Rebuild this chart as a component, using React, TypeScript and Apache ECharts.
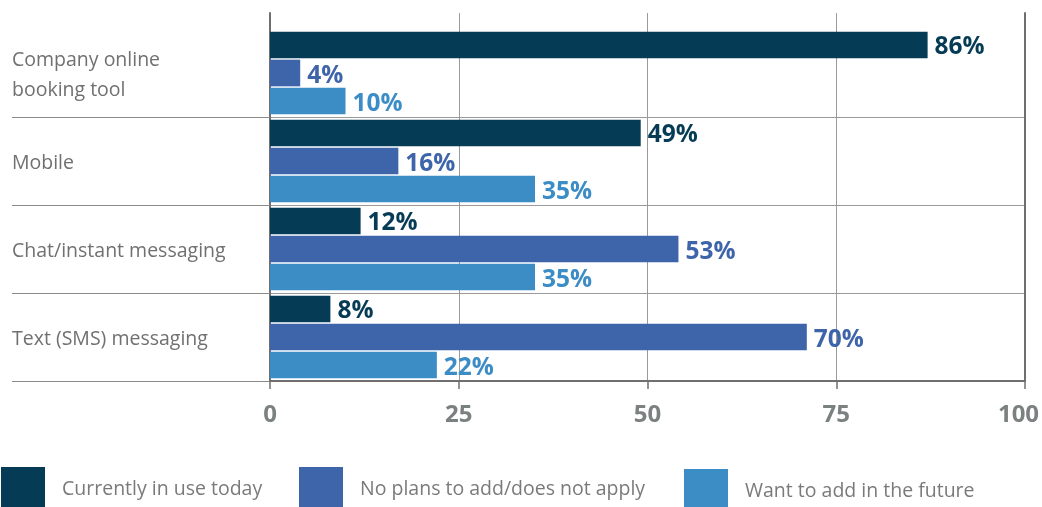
import React, { useEffect, useRef } from "react";
import * as echarts from "echarts";

const categories = [
  "Company online\nbooking tool",
  "Mobile",
  "Chat/instant messaging",
  "Text (SMS) messaging",
];
const seriesNames = [
  "Currently in use today",
  "No plans to add/does not apply",
  "Want to add in the future",
];
// bar lengths as drawn
const inUse = [87.1, 49.1, 12.0, 8.0];
const noPlans = [4.0, 17.0, 54.1, 71.1];
const wantAdd = [10.0, 35.1, 35.1, 22.1];
// printed labels
const inUseLabels = [86, 49, 12, 8];
const noPlansLabels = [4, 16, 53, 70];
const wantAddLabels = [10, 35, 35, 22];
const colors = ["#063b55", "#3e64aa", "#3c8cc6"];
const xTicks = [0, 25, 50, 75, 100];

const FONT = "'Open Sans', 'Noto Sans', sans-serif";

export default function App() {
  const ref = useRef<HTMLDivElement>(null);
  useEffect(() => {
    if (!ref.current) return;
    const chart = echarts.init(ref.current, null, { renderer: "svg" });
    const values = [inUse, noPlans, wantAdd];
    const labels = [inUseLabels, noPlansLabels, wantAddLabels];
    const hideFirst = (i: number) => i !== 0;
    const legendPos = [
      { left: 1, top: 467 },
      { left: 299, top: 467 },
      { left: 684, top: 469 },
    ];
    const R = 17;
    const tickFont = {
      color: "#7b8081",
      fontSize: 24,
      fontWeight: "bold",
      fontFamily: FONT,
    };
    const maxTick = xTicks[xTicks.length - 1];
    chart.setOption({
      animation: false,
      grid: [
        { left: 270, right: R, top: 29, bottom: 126, containLabel: false, outerBoundsMode: "none" },
        { left: 270, right: R, top: 13, bottom: 126, containLabel: false, outerBoundsMode: "none" },
      ],
      xAxis: [
        {
          type: "value",
          gridIndex: 0,
          min: xTicks[0],
          max: maxTick,
          interval: 25,
          axisLine: { show: true, lineStyle: { color: "#6f6f6f", width: 2 } },
          axisTick: { show: true, length: 8, lineStyle: { color: "#6f6f6f", width: 1.5 } },
          splitLine: { show: false },
          axisLabel: {
            margin: 19,
            ...tickFont,
            formatter: (v: number) => (v === maxTick ? "{m|" + v + "}" : String(v)),
            rich: { m: { ...tickFont, padding: [0, 13, 0, 0] } },
          },
        },
        {
          type: "value",
          gridIndex: 1,
          min: xTicks[0],
          max: maxTick,
          interval: 25,
          axisLine: { show: false },
          axisTick: { show: false },
          axisLabel: { show: false },
          splitLine: { show: true, lineStyle: { color: "#9a9a9a", width: 1 } },
        },
      ],
      yAxis: [
        {
          type: "category",
          gridIndex: 0,
          inverse: true,
          data: categories,
          axisLine: { show: false },
          axisTick: {
            show: true,
            length: 258,
            interval: hideFirst,
            lineStyle: { color: "#8a8a8a", width: 1 },
          },
          splitLine: {
            show: true,
            interval: hideFirst,
            lineStyle: { color: "#9a9a9a", width: 1 },
          },
          axisLabel: {
            margin: 258,
            align: "left",
            color: "#707070",
            fontSize: 19.5,
            lineHeight: 30,
            fontFamily: FONT,
            padding: [4, 0, 0, 0],
          },
        },
        {
          type: "value",
          gridIndex: 1,
          position: "left",
          min: 0,
          max: 1,
          axisLine: { show: true, lineStyle: { color: "#6f6f6f", width: 2 } },
          axisTick: { show: false },
          axisLabel: { show: false },
          splitLine: { show: false },
        },
        {
          type: "value",
          gridIndex: 1,
          position: "right",
          min: 0,
          max: 1,
          axisLine: { show: true, lineStyle: { color: "#6f6f6f", width: 2 } },
          axisTick: { show: false },
          axisLabel: { show: false },
          splitLine: { show: false },
        },
      ],
      legend: seriesNames.map((n, i) => ({
        data: [n],
        left: legendPos[i].left,
        top: legendPos[i].top,
        padding: 0,
        itemWidth: 44,
        itemHeight: 40,
        icon: "rect",
        selectedMode: false,
        textStyle: {
          color: "#7a7a7a",
          fontSize: 19.5,
          fontFamily: FONT,
          padding: [8, 0, 0, 12],
        },
      })),
      series: seriesNames.map((n, i) => ({
        type: "bar",
        name: n,
        xAxisIndex: 0,
        yAxisIndex: 0,
        data: values[i],
        barGap: "5%",
        barCategoryGap: "6%",
        itemStyle: { color: colors[i] },
        label: {
          show: true,
          position: "right",
          distance: 7,
          color: colors[i],
          fontSize: 24.5,
          fontWeight: "bold",
          fontFamily: FONT,
          formatter: (p: any) => labels[i][p.dataIndex] + "%",
        },
      })),
    });
    return () => chart.dispose();
  }, []);
  return (
    <div
      ref={ref}
      style={{ position: "fixed", left: 0, top: 0, width: 1042, height: 507 }}
    />
  );
}
